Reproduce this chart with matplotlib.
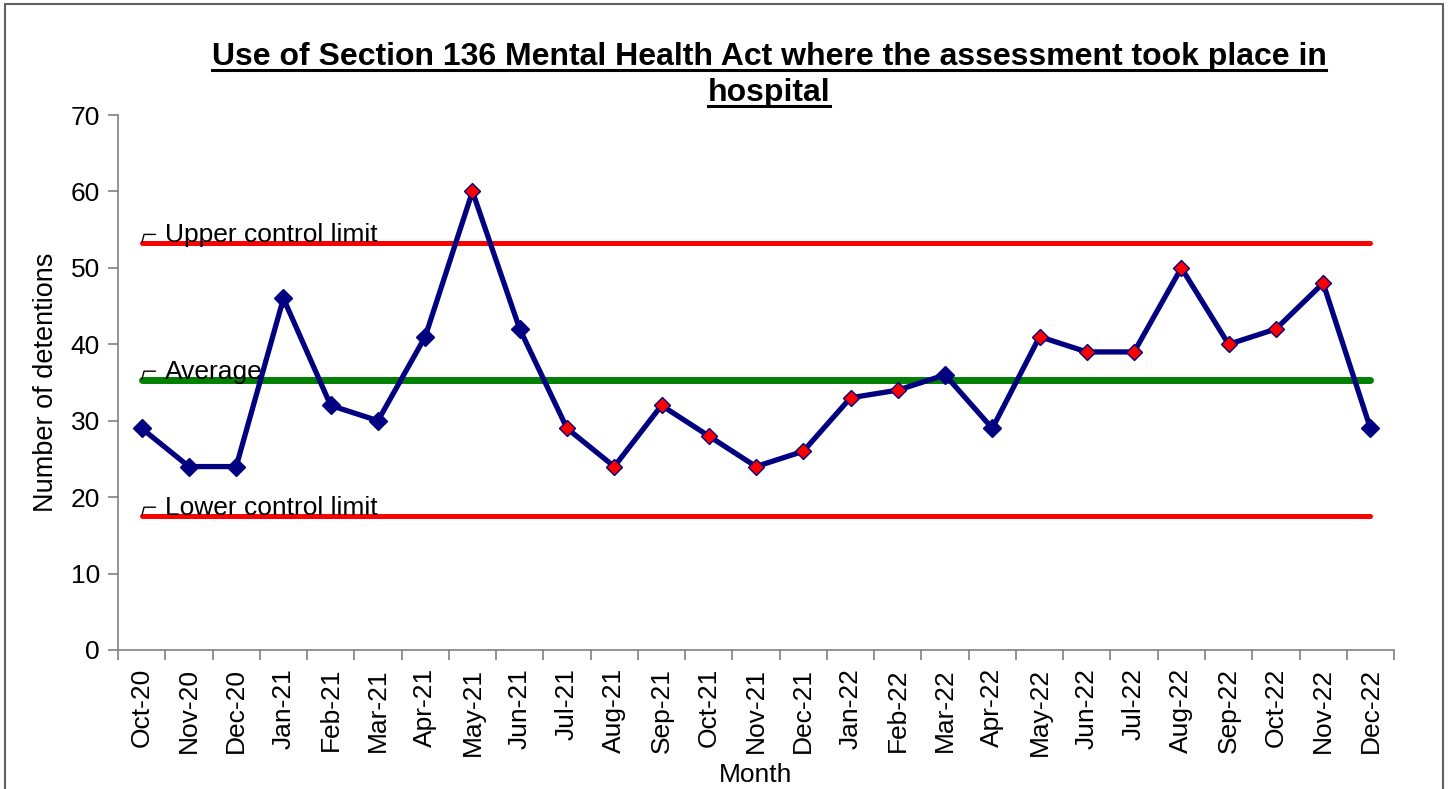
import matplotlib
matplotlib.use("Agg")
import matplotlib.pyplot as plt
from matplotlib.lines import Line2D
from matplotlib.patches import Rectangle
import numpy as np

plt.rcParams['font.family'] = ['Liberation Sans', 'DejaVu Sans']

months = ['Oct-20', 'Nov-20', 'Dec-20', 'Jan-21', 'Feb-21', 'Mar-21', 'Apr-21',
          'May-21', 'Jun-21', 'Jul-21', 'Aug-21', 'Sep-21', 'Oct-21', 'Nov-21',
          'Dec-21', 'Jan-22', 'Feb-22', 'Mar-22', 'Apr-22', 'May-22', 'Jun-22',
          'Jul-22', 'Aug-22', 'Sep-22', 'Oct-22', 'Nov-22', 'Dec-22']
detentions = [29, 24, 24, 46, 32, 30, 41, 60, 42, 29, 24, 32, 28, 24,
              26, 33, 34, 36, 29, 41, 39, 39, 50, 40, 42, 48, 29]
# points flagged by the SPC rules (drawn red)
flagged = [0, 0, 0, 0, 0, 0, 0, 1, 0, 1, 1, 1, 1, 1,
           1, 1, 1, 0, 0, 1, 1, 1, 1, 1, 1, 1, 0]
upper_limit = 53.2
average = 35.3
lower_limit = 17.5

NAVY = '#000080'

fig = plt.figure(figsize=(14.5, 7.89), dpi=100)
ax = fig.add_axes([0.0814, 0.1762, 0.88, 0.678])

x = np.arange(len(months))
n = len(months)

ax.plot(x, [upper_limit] * n, color='#ff0000', lw=3.6, solid_capstyle='round', zorder=2)
ax.plot(x, [lower_limit] * n, color='#ff0000', lw=3.6, solid_capstyle='round', zorder=2)
ax.plot(x, [average] * n, color='#008000', lw=5, solid_capstyle='round', zorder=2)

ax.plot(x, detentions, color=NAVY, lw=3.8, zorder=3)
for xi, yi, f in zip(x, detentions, flagged):
    if f:
        ax.plot(xi, yi, marker='D', ms=8.6, mfc='#ff0000', mec=NAVY, mew=1, zorder=4)
    else:
        ax.plot(xi, yi, marker='D', ms=9.5, mfc=NAVY, mec=NAVY, zorder=4)

for val, lab in [(upper_limit, 'Upper control limit'), (average, 'Average'),
                 (lower_limit, 'Lower control limit')]:
    ax.annotate(lab, xy=(0, val), xytext=(17, 0.8), textcoords='offset points',
                fontsize=19, va='baseline', ha='left', zorder=5)
    ax.annotate('', xy=(0, val), xytext=(10, 6.5), textcoords='offset points',
                arrowprops=dict(arrowstyle='-', lw=1, color='black',
                                connectionstyle='angle,angleA=0,angleB=75,rad=0',
                                shrinkA=0, shrinkB=1), zorder=5)

ax.set_xlim(-0.5, n - 0.5)
ax.set_ylim(0, 70)
ax.set_yticks(range(0, 71, 10))
ax.set_xticks(x)
ax.set_xticklabels(months, rotation=90)
ax.set_xticks(np.arange(-0.5, n, 1), minor=True)
ax.tick_params(axis='x', which='major', length=0, pad=13, labelsize=19)
ax.tick_params(axis='x', which='minor', length=7, width=1.2, color='#808080', direction='out')
ax.tick_params(axis='y', length=7, width=1.2, color='#808080', labelsize=19, pad=6)

for s in ['top', 'right']:
    ax.spines[s].set_visible(False)
for s in ['left', 'bottom']:
    ax.spines[s].set_color('#808080')
    ax.spines[s].set_linewidth(1.2)

ax.set_ylabel('Number of detentions', fontsize=19.5, labelpad=8)
ax.set_xlabel('Month', fontsize=19, labelpad=5)

t1 = fig.text(769 / 1450, 1 - 57 / 789, 'Use of Section 136 Mental Health Act where the assessment took place in',
              fontsize=23, fontweight='bold', ha='center', va='center')
t2 = fig.text(769 / 1450, 1 - 93 / 789, 'hospital',
              fontsize=23, fontweight='bold', ha='center', va='center')

# figure frame
fig.patches.append(Rectangle((5 / 1450, -0.02), 1438 / 1450, 1 - 4 / 789 + 0.02,
                             transform=fig.transFigure, fill=False,
                             edgecolor='#606060', lw=1.5))

# underline title lines
fig.canvas.draw()
r = fig.canvas.get_renderer()
for t in (t1, t2):
    bb = t.get_window_extent(r).transformed(fig.transFigure.inverted())
    yline = bb.y0 + 2 / 789
    fig.add_artist(Line2D([bb.x0, bb.x1], [yline, yline], transform=fig.transFigure,
                          color='black', lw=2.2))

fig.savefig('out.png', dpi=100)
